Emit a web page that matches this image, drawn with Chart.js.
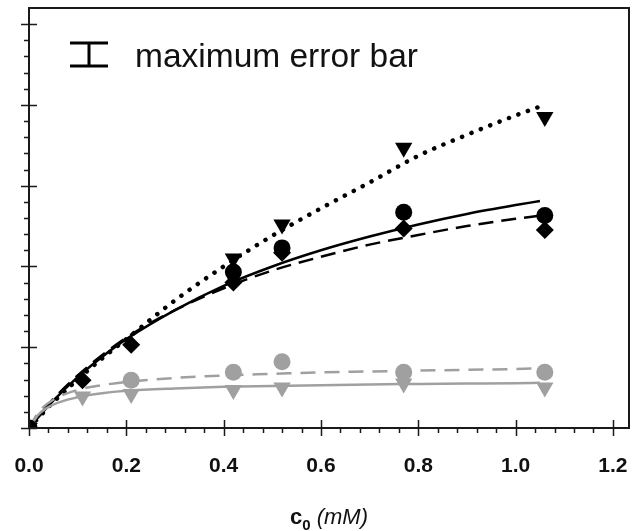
<!DOCTYPE html>
<html>
<head>
<meta charset="utf-8">
<script src="https://cdn.jsdelivr.net/npm/chart.js@4.4.1/dist/chart.umd.min.js"></script>
<style>
  html, body { margin: 0; padding: 0; background: #fff; }
  #wrap { width: 632px; height: 531px; }
</style>
</head>
<body>
<div id="wrap"><canvas id="chart" width="632" height="531"></canvas></div>
<script>
// measured concentrations (mM)
const concentrations = [0, 0.11, 0.21, 0.42, 0.52, 0.77, 1.06];

// measured points, null where no marker is drawn
const blackTriangles = [0, null, null, 2.1, 2.52, 3.47, 3.85];
const blackCircles   = [0, null, null, 1.93, 2.23, 2.67, 2.63];
const blackDiamonds  = [0, 0.59, 1.03, 1.8, 2.17, 2.47, 2.45];
const greyCircles    = [0, null, 0.59, 0.69, 0.82, 0.69, 0.69];
const greyTriangles  = [0, 0.39, 0.42, 0.47, 0.5, 0.55, 0.5];

// fitted curves, sampled along c0
const fitX        = [0, 0.02, 0.05, 0.1, 0.15, 0.2, 0.3, 0.4, 0.5, 0.6, 0.7, 0.8, 0.9, 1.0, 1.05];
const fitSolid    = [0, 0.14, 0.34, 0.63, 0.88, 1.1, 1.46, 1.76, 2.0, 2.2, 2.37, 2.52, 2.65, 2.76, 2.81];
const fitDashed   = [0, 0.15, 0.36, 0.65, 0.9, 1.12, 1.46, 1.73, 1.95, 2.12, 2.27, 2.39, 2.5, 2.59, 2.63];
const fitDotted   = [0, 0.13, 0.32, 0.6, 0.86, 1.1, 1.58, 2.0, 2.38, 2.72, 3.04, 3.37, 3.63, 3.87, 3.98];
const fitGreyDash = [0, 0.2, 0.35, 0.47, 0.53, 0.57, 0.62, 0.65, 0.67, 0.69, 0.7, 0.71, 0.72, 0.73, 0.74];
const fitGreySolid= [0, 0.17, 0.29, 0.38, 0.43, 0.46, 0.49, 0.51, 0.52, 0.53, 0.54, 0.545, 0.55, 0.555, 0.56];

const xMax = 1.233;
const yMax = 5.2;
const BLACK = "#000";
const GREY = "#a0a0a0";
const FONT = "'Liberation Sans', Arial, sans-serif";

const pts = ys => concentrations.map((x, i) => ({ x, y: ys[i] }));
const curve = ys => fitX.map((x, i) => ({ x, y: ys[i] }));

function fitLine(ys, color, dash, order, width = 2.5, cap = "butt") {
  return {
    data: curve(ys),
    borderColor: color,
    borderWidth: width,
    borderDash: dash,
    borderCapStyle: cap,
    pointRadius: 0,
    cubicInterpolationMode: "monotone",
    fill: false,
    order,
  };
}

function markers(ys, color, style, radius, order, rotation = 0) {
  return {
    data: pts(ys),
    showLine: false,
    pointStyle: style,
    pointRadius: radius,
    pointRotation: rotation,
    pointBackgroundColor: color,
    pointBorderColor: color,
    pointBorderWidth: 0,
    order,
  };
}

// frame, tick marks, error bar key and axis title
const decorations = {
  id: "decorations",
  afterDraw(chart) {
    const { ctx, chartArea: a, scales: { x, y } } = chart;
    ctx.save();
    ctx.strokeStyle = "#1a1a1a";
    ctx.lineWidth = 2;
    ctx.strokeRect(a.left, a.top, a.right - a.left, a.bottom - a.top);

    ctx.lineWidth = 1.5;
    ctx.beginPath();
    for (let i = 0; i <= 26; i++) {
      const py = Math.round(y.getPixelForValue(i * 0.2)) + 0.5;
      if (py < a.top + 2) continue;
      const major = i % 5 === 0;
      ctx.moveTo(a.left - (major ? 8 : 5), py);
      ctx.lineTo(a.left + (major ? 8 : 0), py);
    }
    for (let i = 0; i <= 30; i++) {
      const px = Math.round(x.getPixelForValue(i * 0.04)) + 0.5;
      const major = i % 5 === 0;
      ctx.moveTo(px, a.bottom + (major ? 8 : 5));
      ctx.lineTo(px, a.bottom - (major ? 8 : 0));
    }
    ctx.stroke();

    // maximum error bar key
    ctx.strokeStyle = BLACK;
    ctx.lineWidth = 3;
    ctx.beginPath();
    ctx.moveTo(70, 43); ctx.lineTo(108, 43);
    ctx.moveTo(70, 66); ctx.lineTo(108, 66);
    ctx.moveTo(89, 43); ctx.lineTo(89, 66);
    ctx.stroke();
    ctx.fillStyle = "#111";
    ctx.font = "33.5px " + FONT;
    ctx.textBaseline = "alphabetic";
    ctx.textAlign = "left";
    ctx.fillText("maximum error bar", 135, 67);

    // axis title: c0 (mM)
    const parts = [
      { t: "c", f: "bold 22px " + FONT, dy: 0 },
      { t: "0", f: "bold 15px " + FONT, dy: 6 },
      { t: " (mM)", f: "italic 22px " + FONT, dy: 0 },
    ];
    let total = 0;
    parts.forEach(p => { ctx.font = p.f; p.w = ctx.measureText(p.t).width; total += p.w; });
    let cx = (a.left + a.right) / 2 - total / 2;
    const base = 524;
    parts.forEach(p => {
      ctx.font = p.f;
      ctx.fillText(p.t, cx, base + p.dy);
      cx += p.w;
    });
    ctx.restore();
  },
};

new Chart(document.getElementById("chart"), {
  type: "line",
  data: {
    datasets: [
      fitLine(fitGreySolid, GREY, [], 10),
      fitLine(fitGreyDash, GREY, [15, 9], 10),
      fitLine(fitDashed, BLACK, [15, 8], 10),
      fitLine(fitSolid, BLACK, [], 10),
      fitLine(fitDotted, BLACK, [0.1, 10], 10, 4.5, "round"),
      markers(greyTriangles, GREY, "triangle", 10, 6, 180),
      markers(greyCircles, GREY, "circle", 8.5, 5),
      markers(blackDiamonds, BLACK, "rectRot", 9, 4),
      markers(blackCircles, BLACK, "circle", 8.5, 3),
      markers(blackTriangles, BLACK, "triangle", 10, 2, 180),
    ],
  },
  options: {
    responsive: false,
    animation: false,
    events: [],
    layout: { autoPadding: false, padding: { left: 29, right: 3, top: 8, bottom: 0 } },
    plugins: { legend: { display: false }, tooltip: { enabled: false } },
    scales: {
      x: {
        type: "linear",
        min: 0,
        max: xMax,
        grid: { display: false, drawTicks: false },
        border: { display: false },
        afterFit(scale) {
          scale.height = 103;
          scale.paddingLeft = 0;
          scale.paddingRight = 0;
        },
        ticks: {
          stepSize: 0.2,
          includeBounds: false,
          autoSkip: false,
          maxRotation: 0,
          padding: 26,
          color: "#111",
          font: { family: FONT, size: 21, weight: "bold" },
          callback: v => v.toFixed(1),
        },
      },
      y: {
        type: "linear",
        display: false,
        min: 0,
        max: yMax,
      },
    },
  },
  plugins: [decorations],
});
</script>
</body>
</html>
